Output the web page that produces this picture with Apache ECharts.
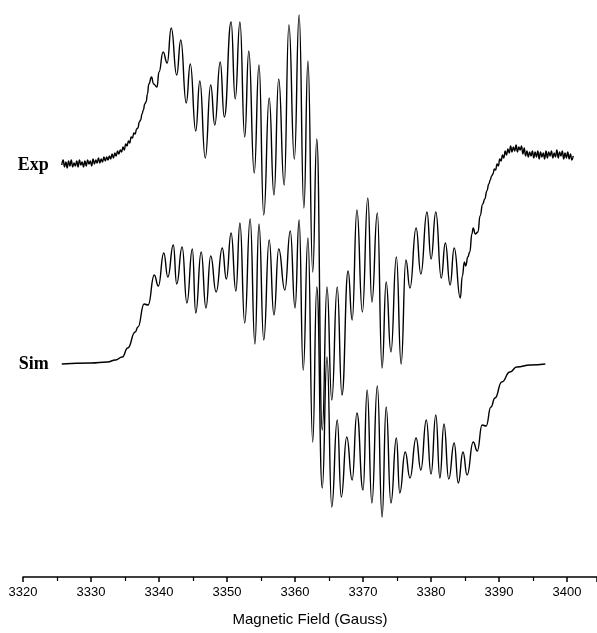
<!DOCTYPE html>
<html>
<head>
<meta charset="utf-8">
<script src="https://cdn.jsdelivr.net/npm/echarts@6/dist/echarts.min.js"></script>
<style>
html,body{margin:0;padding:0;background:#fff;}
#chart{width:597px;height:633px;}
</style>
</head>
<body>
<div id="chart"></div>
<script>
// Experimental spectrum: field (Gauss) and derivative signal (arbitrary units, baseline = 0)
var expField = [
3325.7,3325.9,3326.1,3326.3,3326.5,3326.7,3326.9,3327.1,3327.3,3327.5,3327.7,3327.9,3328.1,3328.3,3328.5,3328.7,3328.9,3329.1,3329.3,3329.5,
3329.7,3329.9,3330.1,3330.3,3330.5,3330.7,3330.9,3331.1,3331.3,3331.5,3331.7,3331.9,3332.1,3332.3,3332.5,3332.7,3332.9,3333.1,3333.3,3333.5,
3333.7,3333.9,3334.1,3334.3,3334.5,3334.7,3334.9,3335.1,3335.3,3335.5,3335.7,3335.9,3336.1,3336.3,3336.5,3336.7,3336.9,3337.1,3337.3,3337.5,
3337.7,3337.9,3338.1,3338.3,3338.5,3338.9,3339.2,3339.7,3340.0,3340.6,3341.2,3341.8,3342.6,3343.2,3344.0,3344.6,3345.4,3346.0,3346.8,3347.6,
3348.2,3349.0,3349.6,3350.6,3351.2,3351.9,3352.6,3353.2,3354.0,3354.7,3355.4,3356.2,3356.9,3357.6,3358.4,3359.1,3359.9,3360.6,3361.3,3361.9,
3362.6,3363.2,3364.0,3364.7,3365.4,3366.2,3366.9,3367.8,3368.4,3369.1,3369.9,3370.7,3371.3,3372.1,3372.8,3373.4,3374.1,3374.9,3375.6,3376.3,
3376.9,3377.8,3378.5,3379.4,3380.0,3380.7,3381.5,3382.1,3382.8,3383.4,3384.3,3384.6,3384.9,3385.1,3385.4,3385.7,3386.0,3386.2,3386.5,3386.9,
3387.2,3387.6,3387.9,3388.2,3388.5,3388.7,3388.9,3389.1,3389.3,3389.5,3389.7,3389.9,3390.1,3390.3,3390.5,3390.7,3390.9,3391.1,3391.3,3391.5,
3391.7,3391.9,3392.1,3392.3,3392.5,3392.7,3392.9,3393.1,3393.3,3393.5,3393.7,3393.9,3394.1,3394.3,3394.5,3394.7,3394.9,3395.1,3395.3,3395.5,
3395.7,3395.9,3396.1,3396.3,3396.5,3396.7,3396.9,3397.1,3397.3,3397.5,3397.7,3397.9,3398.1,3398.3,3398.5,3398.7,3398.9,3399.1,3399.3,3399.5,
3399.7,3399.9,3400.1,3400.3,3400.5,3400.7,3400.9
];
var expSignal = [
-1,4,-3,2,-4,3,-2,4,-3,1,-2,3,-3,4,-1,2,-3,3,-2,4,
0,3,-2,5,0,4,1,6,1,5,2,7,3,7,4,8,5,10,6,11,
8,13,10,14,12,17,14,20,18,23,21,27,26,31,30,35,36,42,44,50,
54,60,62,70,80,87,80,77,92,112,101,136,89,124,61,100,33,83,6,79,
39,102,47,142,65,142,27,113,-9,99,-51,66,-31,85,-21,139,5,149,-44,103,
-108,25,-266,-123,-236,-123,-231,-107,-156,-46,-148,-34,-138,-49,-204,-118,-188,-93,-200,-96,
-124,-64,-110,-48,-95,-48,-114,-79,-121,-84,-134,-112,-98,-102,-93,-88,-70,-64,-70,-68,
-52,-40,-35,-27,-20,-16,-12,-10,-5,-6,0,-2,5,3,9,6,13,9,15,11,
18,12,17,13,19,12,17,14,18,10,16,8,13,7,12,8,13,6,12,7,
13,5,12,7,11,5,13,6,12,8,13,6,11,7,14,6,12,8,13,5,
11,6,12,5,10,4,8
];

// Simulated spectrum
var simField = [
3325.7,3330.0,3332.4,3333.6,3334.6,3335.4,3336.5,3336.9,3337.8,3338.4,3339.3,3339.9,3340.7,3341.3,3342.1,3342.6,3343.4,3344.1,3344.9,3345.4,
3346.2,3346.9,3347.6,3348.4,3349.3,3349.9,3350.6,3351.3,3351.9,3352.6,3353.4,3354.1,3354.7,3355.4,3356.2,3356.9,3357.6,3358.5,3359.3,3360.0,
3360.6,3361.2,3361.9,3362.6,3363.2,3364.0,3364.7,3365.4,3366.2,3366.8,3367.6,3368.4,3369.1,3370.0,3370.6,3371.3,3372.1,3372.8,3373.4,3374.1,
3374.9,3375.4,3376.2,3376.9,3377.8,3378.5,3379.3,3380.0,3380.7,3381.3,3381.9,3382.6,3383.4,3384.0,3384.7,3385.3,3386.2,3386.8,3387.5,3388.1,
3388.8,3389.4,3390.4,3391.6,3392.6,3394.6,3396.8
];
var simSignal = [
0,1,2,4,7,16,32,37,60,59,89,78,111,87,119,80,117,61,115,51,
112,56,108,72,116,85,131,73,141,41,145,20,140,24,124,49,115,74,133,56,
144,-6,126,-78,77,-124,7,-143,-56,-133,-73,-116,-49,-126,-26,-139,-22,-153,-43,-139,
-74,-129,-88,-114,-74,-106,-56,-110,-51,-114,-60,-115,-79,-119,-88,-111,-78,-87,-61,-62,
-43,-34,-18,-8,-3,-1,0
];

var traceNames = ['Exp', 'Sim'];
var xTicks = [3320, 3330, 3340, 3350, 3360, 3370, 3380, 3390, 3400];
var xTitle = 'Magnetic Field (Gauss)';

// vertical stacking of the two traces (display offset only)
var EXP_OFFSET = 413, SIM_OFFSET = 213;

function build(field, signal, offset) {
  var out = [];
  for (var i = 0; i < field.length; i++) out.push([field[i], signal[i] + offset]);
  return out;
}

function nameMark(field, signal, offset, name) {
  return {
    silent: true,
    symbol: 'circle', symbolSize: 0.01,
    itemStyle: { color: 'rgba(0,0,0,0)' },
    label: {
      show: true, formatter: name, position: 'left', distance: 13,
      fontFamily: '"Liberation Serif", "Times New Roman", serif',
      fontWeight: 'bold', fontSize: 18, color: '#000'
    },
    data: [{ coord: [field[0], signal[0] + offset] }]
  };
}

var chart = echarts.init(document.getElementById('chart'), null, { renderer: 'canvas' });
var lineStyle = { color: '#000', width: 1.4 };
chart.setOption({
  animation: false,
  backgroundColor: '#fff',
  grid: { left: 23, right: 0, top: 0, bottom: 56 },
  xAxis: {
    type: 'value', min: xTicks[0], max: 3404.4, interval: 10,
    axisLine: { show: true, onZero: false, lineStyle: { color: '#000', width: 1.5 } },
    axisTick: { show: true, inside: false, length: 5, lineStyle: { color: '#000', width: 1.5 } },
    minorTick: { show: true, splitNumber: 2, length: 4, lineStyle: { color: '#000', width: 1.2 } },
    splitLine: { show: false },
    axisLabel: {
      color: '#000', fontSize: 13, margin: 9,
      fontFamily: '"Liberation Sans", Arial, sans-serif',
      showMaxLabel: false,
      formatter: function (v) { return xTicks.indexOf(v) >= 0 ? String(v) : ''; }
    },
    name: xTitle, nameLocation: 'middle', nameGap: 35,
    nameTextStyle: { color: '#000', fontSize: 15, fontFamily: '"Liberation Sans", Arial, sans-serif' }
  },
  yAxis: { type: 'value', min: 0, max: 577, show: false },
  series: [
    { type: 'line', name: traceNames[0], data: build(expField, expSignal, EXP_OFFSET),
      showSymbol: false, symbol: 'none', smooth: 0.5, smoothMonotone: 'x', lineStyle: lineStyle,
      markPoint: nameMark(expField, expSignal, EXP_OFFSET, traceNames[0]) },
    { type: 'line', name: traceNames[1], data: build(simField, simSignal, SIM_OFFSET),
      showSymbol: false, symbol: 'none', smooth: 0.5, smoothMonotone: 'x', lineStyle: lineStyle,
      markPoint: nameMark(simField, simSignal, SIM_OFFSET, traceNames[1]) }
  ]
});
</script>
</body>
</html>
